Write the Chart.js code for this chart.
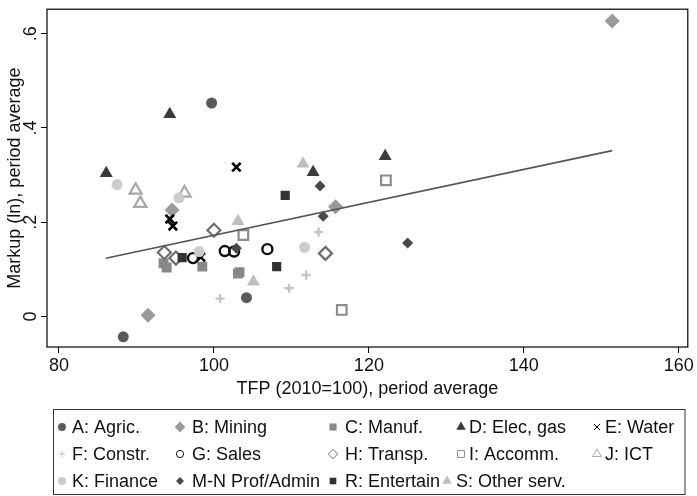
<!DOCTYPE html>
<html>
<head>
<meta charset="utf-8">
<script src="https://cdn.jsdelivr.net/npm/chart.js@4.4.1/dist/chart.umd.min.js"></script>
<style>
  body { margin: 0; background: #fff; }
  canvas { display: block; }
</style>
</head>
<body>
<canvas id="markup_chart" width="697" height="496"></canvas>
<script>
// sectors, in legend order
const sectorLabels = ["A: Agric.", "B: Mining", "C: Manuf.", "D: Elec, gas", "E: Water",
  "F: Constr.", "G: Sales", "H: Transp.", "I: Accomm.", "J: ICT",
  "K: Finance", "M-N Prof/Admin", "R: Entertain", "S: Other serv."];

// TFP (2010=100), period average, one list per sector
const tfp = [
  [99.7, 104.2, 88.3],
  [94.6, 91.5, 115.7, 151.4],
  [93.5, 93.9, 98.5, 103.3, 103.1],
  [86.1, 94.3, 112.8, 122.1],
  [102.9, 94.3, 94.7, 98.3],
  [100.8, 113.5, 111.9, 109.7],
  [97.3, 101.4, 102.6, 106.9],
  [100.0, 93.6, 95.1, 114.4],
  [103.8, 122.2, 116.5],
  [89.9, 90.5, 96.2],
  [87.5, 98.1, 111.7, 95.5],
  [102.9, 113.7, 114.1, 125.0],
  [95.9, 109.2, 108.1],
  [103.1, 105.1, 111.5]
];

// Markup (ln), period average, same order
const markup = [
  [0.453, 0.040, -0.043],
  [0.226, 0.003, 0.233, 0.627],
  [0.113, 0.104, 0.106, 0.094, 0.091],
  [0.304, 0.429, 0.306, 0.340],
  [0.317, 0.207, 0.192, 0.126],
  [0.038, 0.179, 0.088, 0.060],
  [0.124, 0.139, 0.138, 0.143],
  [0.183, 0.136, 0.124, 0.134],
  [0.173, 0.289, 0.014],
  [0.268, 0.240, 0.262],
  [0.280, 0.138, 0.147, 0.252],
  [0.145, 0.277, 0.213, 0.156],
  [0.125, 0.257, 0.106],
  [0.202, 0.074, 0.324]
];

// fitted line end points
const fitX = [86.05, 151.4];
const fitY = [0.1235, 0.352];

const xTicks = [80, 100, 120, 140, 160];
const yTicks = [0, 0.2, 0.4, 0.6];
const yTickLabels = ["0", ".2", ".4", ".6"];

// marker look per sector
const styles = [
  { pointStyle: 'circle', radius: 5.5, fill: '#5a5a5a', line: '#5a5a5a', bw: 0 },
  { pointStyle: 'rectRot', radius: 7.5, fill: '#9a9a9a', line: '#9a9a9a', bw: 0 },
  { pointStyle: 'rect', radius: 7, fill: '#888888', line: '#888888', bw: 0 },
  { pointStyle: 'triangle', radius: 7.5, fill: '#3a3a3a', line: '#3a3a3a', bw: 0 },
  { pointStyle: 'crossRot', radius: 6, fill: '#000', line: '#000', bw: 2.6 },
  { pointStyle: 'cross', radius: 4.6, fill: '#c4c4c4', line: '#c4c4c4', bw: 2.4 },
  { pointStyle: 'circle', radius: 5, fill: 'rgba(0,0,0,0)', line: '#111', bw: 2.4 },
  { pointStyle: 'rectRot', radius: 6.5, fill: 'rgba(0,0,0,0)', line: '#6e6e6e', bw: 2.2 },
  { pointStyle: 'rect', radius: 6.8, fill: 'rgba(0,0,0,0)', line: '#8c8c8c', bw: 2.2 },
  { pointStyle: 'triangle', radius: 7, fill: 'rgba(0,0,0,0)', line: '#a8a8a8', bw: 2.2 },
  { pointStyle: 'circle', radius: 5.5, fill: '#cccccc', line: '#cccccc', bw: 0 },
  { pointStyle: 'rectRot', radius: 5.5, fill: '#484848', line: '#484848', bw: 0 },
  { pointStyle: 'rect', radius: 6.5, fill: '#333333', line: '#333333', bw: 0 },
  { pointStyle: 'triangle', radius: 7.5, fill: '#bdbdbd', line: '#bdbdbd', bw: 0 }
];

const FONT = "'Liberation Sans', Arial, sans-serif";

let datasets = sectorLabels.map(function (label, i) {
  let st = styles[i];
  return {
    label: label,
    data: tfp[i].map((x, j) => ({ x: x, y: markup[i][j] })),
    pointStyle: st.pointStyle,
    pointRadius: st.radius,
    pointHoverRadius: st.radius,
    backgroundColor: st.fill,
    borderColor: st.line,
    borderWidth: st.bw,
    order: sectorLabels.length - i
  };
});

datasets.push({
  type: 'line',
  label: 'fit',
  data: fitX.map((x, j) => ({ x: x, y: fitY[j] })),
  borderColor: '#555555',
  borderWidth: 1.6,
  pointRadius: 0,
  fill: false,
  order: 0
});

// frame, rotated y labels and the boxed legend
const stataDecor = {
  id: 'stataDecor',
  afterDraw(chart) {
    const ctx = chart.ctx;
    const area = chart.chartArea;
    ctx.save();
    ctx.strokeStyle = '#000';
    ctx.lineWidth = 1.2;
    ctx.strokeRect(area.left, area.top, area.right - area.left, area.bottom - area.top);

    // y tick labels, vertical like stata
    ctx.fillStyle = '#111';
    ctx.font = "18px " + FONT;
    ctx.textAlign = 'center';
    ctx.textBaseline = 'middle';
    yTicks.forEach(function (v, k) {
      let py = chart.scales.y.getPixelForValue(v);
      ctx.save();
      ctx.translate(31, py);
      ctx.rotate(-Math.PI / 2);
      ctx.fillText(yTickLabels[k], 0, 0);
      ctx.restore();
    });

    // legend
    ctx.lineWidth = 1;
    ctx.strokeStyle = '#333';
    ctx.strokeRect(53.5, 409.5, 631.5, 85);
    const markX = [62, 180, 333, 461, 597];
    const textX = [72, 192, 345, 469, 605];
    const rowY = [427, 454, 481];
    ctx.textAlign = 'left';
    ctx.textBaseline = 'middle';
    sectorLabels.forEach(function (label, i) {
      let col = i % 5, row = Math.floor(i / 5);
      let mx = markX[col], tx = textX[col];
      // last row sits closer together in the original
      if (row == 2 && col == 3) { mx = 447; tx = 456; }
      let st = styles[i];
      ctx.fillStyle = st.fill;
      ctx.strokeStyle = st.line;
      Chart.helpers.drawPoint(ctx, {
        pointStyle: st.pointStyle,
        radius: st.radius * 0.72,
        rotation: 0,
        borderWidth: st.bw ? st.bw * 0.6 : 0
      }, mx, rowY[row]);
      ctx.fillStyle = '#111';
      ctx.fillText(label, tx, rowY[row] + 1);
    });
    ctx.restore();
  }
};

new Chart(document.getElementById("markup_chart").getContext('2d'), {
  type: 'scatter',
  data: { datasets: datasets },
  plugins: [stataDecor],
  options: {
    responsive: false,
    animation: false,
    events: [],
    layout: { padding: { left: 0, top: 3, right: 7, bottom: 96 } },
    plugins: {
      legend: { display: false },
      tooltip: { enabled: false }
    },
    scales: {
      x: {
        type: 'linear',
        min: 78.457,
        max: 161.16,
        afterBuildTicks: s => { s.ticks = xTicks.map(v => ({ value: v })); },
        afterFit: s => { s.height = 53; },
        border: { display: false },
        grid: { drawOnChartArea: false, drawTicks: true, tickLength: 6, color: '#000' },
        ticks: { color: '#111', padding: 2, maxRotation: 0, font: { family: FONT, size: 18 } },
        title: {
          display: true,
          text: 'TFP (2010=100), period average',
          color: '#111',
          padding: 0,
          font: { family: FONT, size: 18 }
        }
      },
      y: {
        type: 'linear',
        min: -0.0646,
        max: 0.652,
        afterBuildTicks: s => { s.ticks = yTicks.map(v => ({ value: v })); },
        afterFit: s => { s.width = 47; },
        border: { display: false },
        grid: { drawOnChartArea: false, drawTicks: true, tickLength: 6, color: '#000' },
        ticks: { display: false },
        title: {
          display: true,
          text: 'Markup (ln), period average',
          color: '#111',
          padding: { top: 4, bottom: 0 },
          font: { family: FONT, size: 18 }
        }
      }
    }
  }
});
</script>
</body>
</html>
